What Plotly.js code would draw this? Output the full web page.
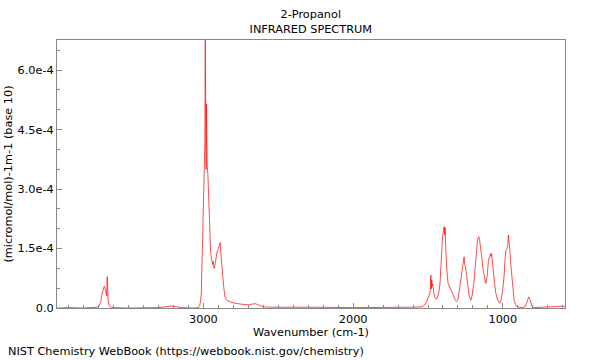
<!DOCTYPE html>
<html>
<head>
<meta charset="utf-8">
<script src="https://cdn.plot.ly/plotly-3.0.1.min.js"></script>
<style>html,body{margin:0;padding:0;background:#fff;}#chart{width:600px;height:360px;}</style>
</head>
<body>
<div id="chart"></div>
<script>
// Wavenumbers (cm-1)
const wavenumber = [3978,3900,3800,3750,3710,3695,3685,3675,3668,3662,3656,3650,3646,3643,3641,3636,3628,3615,3500,3300,3240,3210,3180,3150,3060,3035,3025,3018,3014,3010,3005,3001,2995,2992,2990,2988,2986,2984,2982,2980,2978,2975,2970,2961,2952,2945,2941,2938,2935,2928,2920,2910,2900,2892,2888,2884,2875,2865,2856,2845,2834,2800,2756,2700,2670,2656,2640,2603,2550,2400,2300,2000,1800,1600,1540,1521,1510,1499,1490,1484,1481,1478,1475,1472,1468,1463,1455,1443,1430,1420,1416,1410,1403,1395,1392,1389,1386,1382,1376,1366,1350,1340,1332,1320,1310,1300,1290,1283,1270,1262,1259,1255,1250,1243,1236,1225,1214,1205,1192,1185,1176,1170,1164,1161,1155,1149,1140,1132,1122,1114,1105,1096,1088,1081,1078,1075,1068,1065,1055,1047,1035,1021,1010,1000,992,985,980,972,968,963,960,954,947,941,933,925,915,905,870,850,842,835,827,820,812,805,790,700,660,630,600,585];
// Absorbance, (micromol/mol)-1 m-1 (base 10)
const absorbance = [0,1e-6,0,1e-6,2e-6,6e-6,1.8e-5,4.0e-5,5.2e-5,5.5e-5,4.8e-5,3.5e-5,3.0e-5,7.9e-5,3.2e-5,1.5e-5,5e-6,1e-6,0,1e-6,4e-6,5e-6,3e-6,1e-6,0,1e-6,6e-6,2e-5,4e-5,1.0e-4,1.84e-4,2.68e-4,3.3e-4,3.4e-4,4.2e-4,6.76e-4,3.6e-4,4.6e-4,3.5e-4,5.15e-4,3.9e-4,3.6e-4,3.35e-4,2.27e-4,1.42e-4,1.21e-4,1.15e-4,1.1e-4,1.18e-4,1.0e-4,1.15e-4,1.4e-4,1.5e-4,1.62e-4,1.65e-4,1.4e-4,9.6e-5,5.5e-5,2.8e-5,2.0e-5,1.76e-5,1.3e-5,1.0e-5,8e-6,1.0e-5,1.1e-5,9e-6,3e-6,2e-6,1e-6,2e-6,1e-6,1e-6,2e-6,3e-6,8e-6,1.5e-5,2.5e-5,3.5e-5,4.5e-5,8.3e-5,4.8e-5,7.1e-5,5.5e-5,6.0e-5,4.2e-5,2.8e-5,2.2e-5,3.5e-5,6.0e-5,8.0e-5,1.3e-4,1.8e-4,1.98e-4,2.05e-4,1.85e-4,2.03e-4,1.6e-4,1.04e-4,6.2e-5,5.0e-5,4.0e-5,3.3e-5,2.2e-5,1.6e-5,2.0e-5,4.5e-5,7.0e-5,1.0e-4,1.15e-4,1.29e-4,1.1e-4,1.04e-4,8.5e-5,5.8e-5,3.0e-5,2.0e-5,3.2e-5,7.0e-5,1.1e-4,1.46e-4,1.7e-4,1.78e-4,1.8e-4,1.7e-4,1.55e-4,1.25e-4,9.6e-5,7.0e-5,6.2e-5,8.0e-5,1.21e-4,1.3e-4,1.38e-4,1.3e-4,1.36e-4,1.1e-4,9.6e-5,6.0e-5,3.7e-5,2.0e-5,1.2e-5,2.2e-5,5.0e-5,7.9e-5,1.25e-4,1.46e-4,1.5e-4,1.55e-4,1.84e-4,1.6e-4,1.5e-4,1.1e-4,7.9e-5,4.5e-5,2.0e-5,8e-6,3e-6,1e-6,4e-6,1.2e-5,2.3e-5,2.8e-5,2.3e-5,1.0e-5,3e-6,1e-6,2e-6,3e-6,4e-6,5e-6,3e-6];

const xTickVals = [3000, 2000, 1000];
const xTickText = ['3000', '2000', '1000'];
const yTickVals = [0, 1.5e-4, 3.0e-4, 4.5e-4, 6.0e-4];
const yTickText = ['0.0', '1.5e-4', '3.0e-4', '4.5e-4', '6.0e-4'];

const font = {family: 'DejaVu Sans, sans-serif', size: 11.3, color: '#000'};

Plotly.newPlot('chart', [{
  x: wavenumber,
  y: absorbance,
  type: 'scatter',
  mode: 'lines',
  line: {color: 'rgba(255,0,0,0.7)', width: 1},
  hoverinfo: 'none'
}], {
  width: 600, height: 360,
  margin: {l: 57, r: 35, t: 40, b: 52},
  paper_bgcolor: '#fff', plot_bgcolor: '#fff',
  font: font,
  showlegend: false,
  title: {text: '2-Propanol<br>INFRARED SPECTRUM', font: font, x: 0.518, xanchor: 'center', y: 0.949, yanchor: 'top'},
  xaxis: {
    range: [3978, 585], autorange: false,
    tickvals: xTickVals, ticktext: xTickText,
    ticks: 'inside', ticklen: 5, tickcolor: '#888',
    minor: {dtick: 100, ticks: 'inside', ticklen: 3, tickcolor: '#888', showgrid: false},
    showgrid: false, zeroline: false,
    showline: true, linecolor: '#888', linewidth: 1, mirror: true,
    tickfont: font,
    title: {text: 'Wavenumber (cm-1)', font: font, standoff: 3}
  },
  yaxis: {
    range: [0, 6.76e-4], autorange: false,
    tickvals: yTickVals, ticktext: yTickText,
    ticks: 'inside', ticklen: 5, tickcolor: '#888',
    minor: {dtick: 0.5e-4, tick0: 0, ticks: 'inside', ticklen: 3, tickcolor: '#888', showgrid: false},
    showgrid: false, zeroline: false,
    showline: true, linecolor: '#888', linewidth: 1, mirror: true,
    tickfont: font,
    title: {text: '(micromol/mol)-1m-1 (base 10)', font: font, standoff: 2}
  },
  annotations: [{
    text: 'NIST Chemistry WebBook (https://webbook.nist.gov/chemistry)',
    xref: 'paper', yref: 'paper', x: -0.1, y: -0.163,
    xanchor: 'left', yanchor: 'middle', showarrow: false, font: font
  }]
}, {staticPlot: true, displayModeBar: false});
</script>
</body>
</html>
